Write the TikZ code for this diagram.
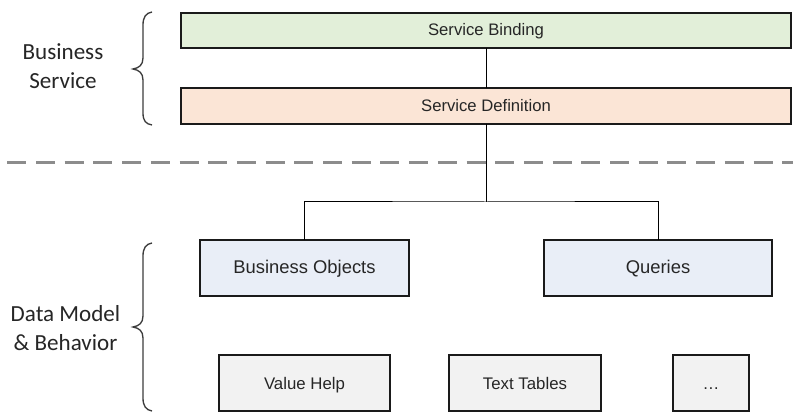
\documentclass[tikz,border=0pt]{standalone}
\usepackage{fontspec}
\newfontfamily\arialf{Liberation Sans}
\newfontfamily\calibf{Carlito}
\definecolor{bindfill}{HTML}{E2EFD9}
\definecolor{deffill}{HTML}{FBE5D6}
\definecolor{bofill}{HTML}{E9EEF7}
\definecolor{grayfill}{HTML}{F2F2F2}
\definecolor{edge}{HTML}{1A1A1A}
\definecolor{txt}{HTML}{262626}
\definecolor{bracec}{HTML}{3C3C3C}
\definecolor{dashc}{HTML}{8C8C8C}
\tikzset{
  boxstyle/.style={draw=edge, line width=1.5pt, inner sep=0pt, outer sep=0pt, text=txt, font=\arialf, align=center, text height=1.05em, text depth=0.15em},
  topbox/.style={boxstyle, minimum width=457.5pt, minimum height=26.5pt, text height=0.9em, text depth=0.1em, font=\arialf\fontsize{12.5pt}{15pt}\selectfont},
  midbox/.style={boxstyle, fill=bofill, minimum height=42pt, font=\arialf\fontsize{13.8pt}{16pt}\selectfont},
  lowbox/.style={boxstyle, fill=grayfill, minimum height=42pt, font=\arialf\fontsize{12.6pt}{15pt}\selectfont},
  conn/.style={draw=black, line width=0.75pt},
  bracestyle/.style={draw=bracec, line width=1pt},
  sidelabel/.style={text=txt, align=center, inner sep=0pt, font=\calibf\fontsize{17.3pt}{21.75pt}\selectfont}
}
\begin{document}
\begin{tikzpicture}[x=0.75pt,y=-0.75pt]
\useasboundingbox (0,0) rectangle (800,420);
\fill[white] (0,0) rectangle (800,420);

% top boxes
\node[topbox, fill=bindfill] (bind) at (486,30.5) {Service Binding};
\node[topbox, fill=deffill] (def) at (486,106) {Service Definition};

% dashed separator
\coordinate (dl) at (7.3,163);
\coordinate (dr) at (793,163);
\draw[draw=dashc, line width=2.25pt, dash pattern=on 14.25pt off 7.275pt] (dl) -- (dr);

% middle boxes
\node[midbox, minimum width=156.75pt] (bo) at (304.5,268) {Business Objects};
\node[midbox, minimum width=171pt] (q) at (658,268) {Queries};

% bottom boxes
\node[lowbox, minimum width=128.25pt] (vh) at (304.5,383) {Value Help};
\node[lowbox, minimum width=114pt] (tt) at (525,383) {Text Tables};
\node[lowbox, minimum width=57pt] (dots) at (711,383) {\ldots};

% connectors
\coordinate (hub) at (486,202);
\draw[conn] (bind.south) -- (def.north);
\draw[conn] (def.south) -- (hub);
\draw[conn] (bo.north) |- (hub) -| (q.north);

% braces
\draw[bracestyle] (152,12) .. controls (146,13) and (143,17) .. (143,25) -- (143,58)
  .. controls (143,65) and (139,68) .. (133,69)
  .. controls (139,70) and (143,73) .. (143,80) -- (143,113)
  .. controls (143,121) and (146,124) .. (152,125);
\draw[bracestyle] (152,243) .. controls (146,244) and (143,248) .. (143,256) -- (143,316)
  .. controls (143,323) and (139,326) .. (133,327)
  .. controls (139,328) and (143,331) .. (143,338) -- (143,398)
  .. controls (143,406) and (146,410) .. (152,411);

% side labels
\node[sidelabel] (lbs) at (63,66.5) {Business\\Service};
\node[sidelabel] (ldm) at (65.5,328) {Data Model\\\& Behavior};
\end{tikzpicture}
\end{document}
